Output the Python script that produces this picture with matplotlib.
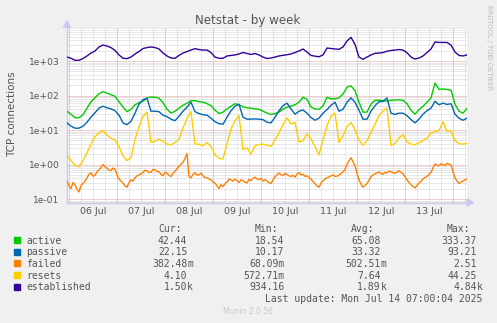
import numpy as np
import pandas as pd
import matplotlib
matplotlib.use("Agg")
import matplotlib.pyplot as plt
from matplotlib.patches import Rectangle, Polygon

# one sample every two hours over the week window (failed is kept hourly)
times = pd.date_range("2025-07-05 23:00", "2025-07-14 07:00", freq="2h")
times_h = pd.date_range("2025-07-05 23:00", "2025-07-14 07:00", freq="1h")

active = [35, 28.7, 22.7, 22.5, 27.8, 43, 66, 86, 113, 129,
          117, 105, 95, 66, 46, 34, 40, 54, 62, 68,
          85, 91, 89, 84, 62, 40, 31, 35, 43, 52,
          60, 71, 71, 66, 64, 58, 51, 37.5, 30, 33,
          41, 49, 58, 54, 47, 44, 43, 41, 40, 35,
          31, 28, 30, 33, 40, 46, 49, 54, 64, 89,
          78, 46, 41, 40, 50, 89, 80, 80, 86, 110,
          175, 190, 138, 64, 33, 33, 56, 73, 73, 71,
          68, 73, 74, 75, 73, 58, 37.5, 28.7, 39, 49,
          64, 85, 230, 150, 155, 150, 143, 56, 35, 31,
          42]
passive = [16.1, 12.9, 11.3, 11.3, 12.9, 16.8, 23.5, 31.7, 43, 49,
           44, 41, 36.3, 26.9, 16.1, 14.2, 18, 30.7, 56, 76,
           83, 35, 35, 34, 26.9, 24.3, 20.6, 18.6, 25, 35,
           46, 64, 34, 30, 27.8, 26.9, 22, 17.4, 15.2, 14.7,
           23.5, 36.3, 49, 56, 23.5, 20.6, 20.6, 21, 20.6, 20,
           16.8, 16.1, 23.5, 36.3, 50.6, 60, 41, 28.7, 35, 38,
           30.7, 23, 19.2, 22, 30.7, 39, 52, 64, 35, 40,
           64, 85, 64, 37.5, 20.6, 20.6, 35, 50.6, 66, 68,
           85, 30.7, 28.3, 30.7, 30.7, 26, 20, 16.1, 20.6, 28.7,
           36.3, 43, 68, 54, 60, 55, 58, 28.7, 22, 19.2,
           22]
failed = [0.34, 0.24, 0.20, 0.30, 0.26, 0.19, 0.16, 0.25, 0.28, 0.33,
          0.41, 0.52, 0.57, 0.46, 0.48, 0.62, 0.70, 0.82, 1.0, 0.86,
          0.78, 0.70, 0.66, 0.79, 0.73, 0.50, 0.38, 0.33, 0.29, 0.24,
          0.22, 0.30, 0.36, 0.33, 0.41, 0.47, 0.50, 0.54, 0.59, 0.68,
          0.66, 0.58, 0.60, 0.72, 0.70, 0.63, 0.62, 0.52, 0.47, 0.60,
          0.56, 0.48, 0.45, 0.55, 0.64, 0.75, 0.89, 1.02, 1.15, 1.5,
          2.1, 0.45, 0.41, 0.52, 0.58, 0.49, 0.50, 0.56, 0.47, 0.42,
          0.41, 0.38, 0.36, 0.31, 0.29, 0.24, 0.20, 0.26, 0.23, 0.28,
          0.31, 0.38, 0.36, 0.33, 0.38, 0.34, 0.30, 0.36, 0.34, 0.31,
          0.29, 0.37, 0.34, 0.40, 0.43, 0.38, 0.36, 0.40, 0.33, 0.37,
          0.33, 0.30, 0.28, 0.36, 0.44, 0.50, 0.57, 0.51, 0.47, 0.55,
          0.52, 0.47, 0.45, 0.49, 0.43, 0.53, 0.59, 0.50, 0.52, 0.45,
          0.47, 0.42, 0.38, 0.32, 0.28, 0.24, 0.22, 0.29, 0.34, 0.38,
          0.41, 0.44, 0.47, 0.50, 0.45, 0.46, 0.49, 0.55, 0.61, 0.72,
          1.0, 1.3, 1.57, 1.2, 0.92, 0.55, 0.36, 0.27, 0.22, 0.25,
          0.28, 0.35, 0.44, 0.50, 0.54, 0.58, 0.61, 0.55, 0.52, 0.60,
          0.57, 0.64, 0.62, 0.58, 0.56, 0.61, 0.66, 0.59, 0.54, 0.44,
          0.36, 0.30, 0.26, 0.23, 0.21, 0.25, 0.29, 0.33, 0.38, 0.42,
          0.45, 0.52, 0.59, 0.80, 1.03, 0.95, 0.92, 1.05, 1.0, 0.93,
          1.08, 1.02, 0.98, 0.62, 0.41, 0.33, 0.28, 0.31, 0.33, 0.36,
          0.38]
resets = [1.9, 1.3, 0.95, 0.86, 1.3, 2.2, 3.9, 6.4, 8.3, 9.6,
          7.1, 5.8, 5.1, 3.3, 1.75, 1.3, 1.6, 5.2, 12.5, 25,
          33, 4.4, 4.7, 5.4, 4.7, 3.9, 3.75, 4.3, 5.4, 11.3,
          22, 34, 3.9, 3.9, 3.5, 4.3, 3.35, 1.9, 1.5, 1.45,
          4.0, 10.7, 18.6, 26, 2.7, 3.05, 2.0, 3.5, 3.8, 3.9,
          3.6, 3.35, 5.2, 8.3, 14.2, 22.7, 14.9, 16.6, 4.5, 4.9,
          7.6, 5.5, 3.3, 1.9, 5.2, 13.3, 25, 31, 4.3, 6.8,
          12.5, 16.6, 10.2, 5.1, 3.6, 4.9, 8.6, 14.7, 26, 35,
          44, 3.6, 4.0, 6.0, 7.3, 4.6, 3.9, 3.75, 4.3, 4.9,
          5.8, 8.3, 8.8, 9.6, 17.4, 9.2, 9.6, 4.9, 4.0, 3.9,
          4.1]
established = [1300, 1200, 1050, 1050, 1180, 1400, 1700, 1950, 2550, 2900,
               2720, 2450, 2020, 1500, 1200, 1170, 1300, 1600, 1880, 2300,
               2450, 2550, 2450, 2230, 1700, 1400, 1220, 1200, 1450, 1700,
               1880, 2080, 2280, 2150, 2080, 2080, 1760, 1300, 1200, 1200,
               1400, 1450, 1500, 1600, 1760, 1650, 1550, 1650, 1500, 1300,
               1180, 1220, 1300, 1400, 1460, 1520, 1600, 1760, 1950, 2230,
               1820, 1450, 1380, 1330, 1500, 2380, 2300, 2230, 2180, 2550,
               3800, 4840, 3050, 1300, 1120, 1300, 1500, 1670, 1700, 1760,
               1920, 2020, 2080, 2150, 2080, 1740, 1300, 1140, 1220, 1400,
               1760, 2230, 3560, 3450, 3450, 3450, 2900, 1820, 1450, 1400,
               1500]

names = ["active", "passive", "failed", "resets", "established"]
colors = ["#00CC00", "#0066B3", "#FF8000", "#FFCC00", "#330099"]
cur = ["42.44", "22.15", "382.48m", "4.10", "1.50k"]
mins = ["18.54", "10.17", "68.09m", "572.71m", "934.16"]
avgs = ["65.08", "33.32", "502.51m", "7.64", "1.89k"]
maxs = ["333.37", "93.21", "2.51", "44.25", "4.84k"]

ytick_vals = [0.1, 1, 10, 100, 1000]
ytick_labels = ["1e-01", "1e+00", "1e+01", "1e+02", "1e+03"]

W, H = 497, 323
TXT = "#555555"
MONO = "DejaVu Sans Mono"


def fx(px):
    return px / W


def fy(py):
    return 1 - py / H


fig = plt.figure(figsize=(W / 100, H / 100), dpi=100, facecolor="#F0F0F0")
ax = fig.add_axes([fx(67), fy(202.5), 400 / W, 175 / H])
ax.set_facecolor("white")
ax.set_yscale("log")
ax.set_ylim(10 ** -1.101, 10 ** 3.971)
ax.set_xlim(times[0], times[-1])

# dotted grid: grey minor lines, red major lines
dot = (0, (1, 1))
for d in range(-2, 4):
    for k in range(2, 10):
        ax.axhline(k * 10.0 ** d, color="#D2D2D2", lw=0.72, ls=dot, zorder=1)
for v in ytick_vals:
    ax.axhline(v, color="#E49A9A", lw=0.72, ls=dot, zorder=1)
for t in pd.date_range("2025-07-06", "2025-07-14 06:00", freq="6h"):
    if t.hour == 0:
        ax.axvline(t, color="#E49A9A", lw=0.72, ls=dot, zorder=1)
    else:
        ax.axvline(t, color="#D2D2D2", lw=0.72, ls=dot, zorder=1)

ax.plot(times, active, color=colors[0], lw=1.0, zorder=3)
ax.plot(times, passive, color=colors[1], lw=1.0, zorder=3)
ax.plot(times_h, failed, color=colors[2], lw=1.0, zorder=3)
ax.plot(times, resets, color=colors[3], lw=1.0, zorder=3)
ax.plot(times, established, color=colors[4], lw=1.0, zorder=3)

ax.yaxis.set_minor_locator(plt.NullLocator())
ax.xaxis.set_minor_locator(plt.NullLocator())
ax.set_yticks(ytick_vals)
ax.set_yticklabels(ytick_labels)
noons = pd.date_range("2025-07-06 12:00", periods=8, freq="D")
ax.set_xticks(noons)
ax.set_xticklabels([t.strftime("%d %b") for t in noons])
ax.tick_params(axis="y", length=0, pad=5.5, labelsize=6.6, labelcolor=TXT)
ax.tick_params(axis="x", length=0, pad=3, labelsize=6.8, labelcolor=TXT)

for s in ["top", "right"]:
    ax.spines[s].set_visible(False)
for s in ["left", "bottom"]:
    ax.spines[s].set_color("#C8C8F0")
    ax.spines[s].set_linewidth(1.0)
    ax.spines[s].set_zorder(2)

# axis arrow heads
arrow_c = "#C8C8F0"
fig.patches.append(Polygon([[fx(63.5), fy(27.5)], [fx(70.5), fy(27.5)], [fx(67), fy(21)]],
                           closed=True, color=arrow_c, transform=fig.transFigure))
fig.patches.append(Polygon([[fx(467), fy(199)], [fx(467), fy(206)], [fx(473.5), fy(202.5)]],
                           closed=True, color=arrow_c, transform=fig.transFigure))

fig.text(fx(248), fy(24), "Netstat - by week", ha="center", va="baseline",
         fontsize=8.6, color=TXT)
fig.text(fx(12), fy(114), "TCP connections", rotation=90, ha="center", va="center",
         fontsize=7.5, color=TXT)
fig.text(fx(489), fy(5), "RRDTOOL / TOBI OETIKER", rotation=270, ha="center", va="top",
         fontsize=4.8, color="#BBBBBB")

# legend table
for label, x0 in zip(["Cur:", "Min:", "Avg:", "Max:"], [158.3, 255, 351, 447]):
    fig.text(fx(x0), fy(231.7), label, ha="left", va="baseline",
             family=MONO, fontsize=7, color=TXT)


def put_value(text, x_end, y, whole_right=False):
    if whole_right:
        fig.text(fx(x_end), fy(y), text, ha="right", va="baseline",
                 family=MONO, fontsize=7, color=TXT)
        return
    num, suf = (text[:-1], text[-1]) if text[-1] in "mk" else (text, "")
    fig.text(fx(x_end), fy(y), num, ha="right", va="baseline",
             family=MONO, fontsize=7, color=TXT)
    if suf:
        fig.text(fx(x_end), fy(y), suf, ha="left", va="baseline",
                 family=MONO, fontsize=7, color=TXT)


for i, name in enumerate(names):
    base = 243.5 + 11.7 * i
    fig.patches.append(Rectangle((fx(14), fy(base - 0.5)), 6 / W, 6 / H,
                                 color=colors[i], transform=fig.transFigure))
    fig.text(fx(26), fy(base), name, ha="left", va="baseline",
             family=MONO, fontsize=7, color=TXT)
    put_value(cur[i], 187.3, base)
    put_value(mins[i], 284.5, base, whole_right=True)
    put_value(avgs[i], 380.7, base)
    put_value(maxs[i], 476.7, base)

fig.text(fx(482), fy(302.5), "Last update: Mon Jul 14 07:00:04 2025", ha="right",
         va="baseline", family=MONO, fontsize=7, color=TXT)
fig.text(fx(248), fy(313.5), "Munin 2.0.56", ha="center", va="baseline",
         fontsize=5.5, color="#C8C8C8")

fig.savefig("out.png", dpi=100, facecolor=fig.get_facecolor())
